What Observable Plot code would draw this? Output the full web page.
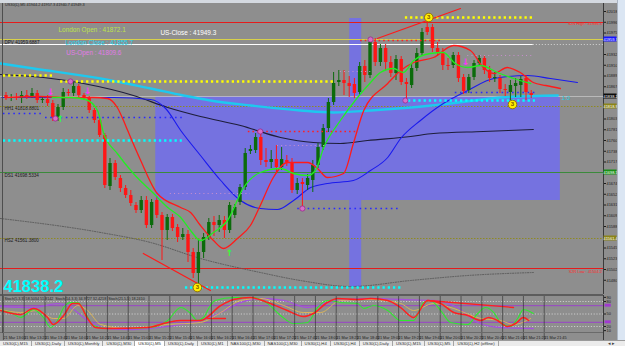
<!DOCTYPE html>
<html><head><meta charset="utf-8">
<script src="https://cdn.jsdelivr.net/npm/d3@7"></script>
<script src="https://cdn.jsdelivr.net/npm/@observablehq/plot@0.6"></script>
<style>
html,body{margin:0;padding:0;}
body{width:625px;height:346px;overflow:hidden;position:relative;background:#8e8e8e;font-family:"Liberation Sans",Arial,sans-serif;}
#top{position:absolute;left:0;top:0;width:625px;height:3px;background:#d4d9e0;}
#title{position:absolute;left:5px;top:3px;font-size:3.8px;line-height:5px;color:#1e1e1e;white-space:nowrap;z-index:3;}
#main{position:absolute;left:0;top:3px;}
#osc{position:absolute;left:0;top:295px;}
#sep{position:absolute;left:0;top:293.5px;width:603px;height:2px;background:#5c5c5c;z-index:2;}
#oscbottom{position:absolute;left:0;top:332px;width:603px;height:1px;background:#6a6a6a;z-index:2;}
#leftedge{position:absolute;left:2px;top:3px;width:1px;height:330px;background:#4e4e4e;z-index:2;}
#scroll{position:absolute;left:617px;top:0;width:8px;height:340px;background:#dbe6f3;border-left:1px solid #aab4c2;box-sizing:border-box;z-index:4;}
#tabs{position:absolute;left:0;top:340px;width:625px;height:6px;background:#ececec;display:flex;font-size:4.2px;color:#303030;line-height:6px;border-top:1px solid #9a9a9a;box-sizing:border-box;z-index:5;}
#tabs div{padding:0 3px;border-right:1px solid #a4a4a4;white-space:nowrap;}
#tabs div.active{background:#ffffff;}
#arrows{position:absolute;left:608px;top:340px;font-size:5px;line-height:6px;color:#404040;z-index:6;}
</style></head>
<body>
<div id="top"></div>
<div id="title"></div>
<div id="main"></div>
<div id="sep"></div>
<div id="osc"></div>
<div id="oscbottom"></div>
<div id="leftedge"></div>
<div id="scroll"></div>
<div id="tabs"></div>
<div id="arrows">◂ ▸</div>
<script>
// ---------------- DATA ----------------
const chartTitle = "US30(£),M5  41944.2 41957.3 41940.7 41949.3";
// candles (index 0..101, M5 bars)
const opens = [41850,41844,41846,41845,41850,41848,41854,41840,41842,41834,
 41806,41826,41856,41854,41868,41850,41844,41820,41800,41770,
 41668,41714,41684,41664,41650,41630,41620,41640,41590,41640,
 41610,41580,41606,41586,41566,41572,41536,41494,41536,41566,
 41596,41590,41600,41580,41610,41636,41666,41738,41740,41766,
 41720,41716,41722,41706,41720,41716,41660,41676,41670,41680,
 41710,41746,41784,41836,41876,41880,41874,41872,41856,41908,
 41890,41956,41916,41944,41916,41894,41922,41876,41870,41904,
 41934,41986,41986,41944,41936,41910,41910,41930,41886,41860,
 41886,41914,41924,41900,41884,41884,41862,41856,41868,41870,
 41884,41854];
const closes = [41844,41846,41845,41850,41848,41854,41840,41842,41834,41806,
 41826,41856,41854,41868,41850,41846,41820,41800,41770,41670,
 41714,41686,41664,41650,41634,41620,41640,41590,41636,41610,
 41580,41606,41584,41566,41572,41536,41494,41536,41566,41596,
 41590,41600,41580,41630,41626,41666,41734,41742,41766,41720,
 41716,41722,41706,41722,41716,41660,41674,41672,41684,41710,
 41746,41784,41836,41874,41880,41874,41868,41854,41908,41890,
 41956,41916,41944,41916,41894,41922,41876,41872,41904,41934,
 41976,41976,41944,41936,41910,41908,41930,41884,41858,41886,
 41914,41924,41900,41884,41886,41862,41860,41870,41874,41882,
 41856,41850];
const highs = [41856,41852,41854,41858,41860,41864,41860,41848,41850,41840,
 41832,41864,41862,41876,41872,41854,41848,41824,41804,41774,
 41724,41720,41690,41670,41660,41636,41648,41648,41642,41648,
 41616,41612,41612,41592,41584,41580,41544,41560,41574,41604,
 41608,41610,41608,41636,41632,41672,41744,41750,41774,41772,
 41744,41740,41750,41746,41730,41724,41684,41684,41692,41720,
 41754,41792,41844,41896,41900,41900,41888,41884,41916,41920,
 41960,41964,41952,41952,41928,41930,41928,41884,41912,41944,
 41984,42004,41992,41956,41944,41924,41936,41936,41892,41892,
 41920,41930,41930,41908,41896,41890,41872,41880,41884,41888,
 41890,41860];
const lows = [41840,41838,41840,41834,41842,41844,41834,41834,41828,41798,
 41798,41820,41848,41848,41844,41840,41814,41794,41766,41664,
 41660,41680,41656,41644,41628,41614,41614,41584,41584,41604,
 41520,41560,41578,41556,41560,41516,41484,41474,41524,41560,
 41568,41576,41564,41574,41604,41630,41660,41732,41734,41710,
 41706,41704,41696,41700,41708,41654,41652,41624,41660,41656,
 41704,41740,41776,41830,41868,41850,41846,41844,41850,41876,
 41884,41908,41908,41900,41886,41880,41870,41840,41864,41898,
 41928,41970,41936,41928,41900,41900,41904,41876,41852,41854,
 41880,41908,41892,41876,41876,41854,41848,41840,41846,41846,
 41840,41844];

// moving averages: [bar index, price]
const maGreen = [[8.9,41846],[12.4,41846],[15.3,41842],[17.6,41820],[18.8,41774],[21.4,41734],[24.5,41694],[28.4,41654],[31.1,41626],[33.6,41606],[35.5,41580],[37.4,41560],[39.9,41576],[42.6,41600],[45.7,41666],[48.9,41696],[52.8,41704],[55.3,41694],[58.0,41690],[59.5,41700],[61.1,41746],[64.3,41800],[67.6,41846],[70.1,41876],[72.0,41896],[74.5,41904],[76.4,41896],[78.4,41920],[81.6,41934],[84.1,41936],[86.4,41914],[88.8,41906],[91.3,41910],[94.5,41896],[97.6,41884],[100.9,41874]];
const maRed = [[-0.1,41846],[6.6,41848],[12.4,41846],[16.8,41846],[19.5,41844],[21.4,41826],[22.6,41800],[23.4,41780],[25.9,41720],[29.1,41654],[33.6,41626],[35.5,41616],[37.4,41590],[39.9,41560],[41.8,41544],[44.5,41564],[47.0,41590],[48.9,41630],[51.4,41686],[54.1,41716],[58.0,41716],[59.9,41704],[61.8,41686],[64.9,41694],[66.8,41754],[68.8,41820],[73.4,41874],[75.9,41900],[78.4,41916],[82.2,41926],[86.1,41950],[89.3,41940],[91.8,41906],[93.8,41894],[96.4,41906],[98.9,41896],[101.4,41876],[103.8,41870],[106.6,41864]];
const maBlue = [[-0.8,41846],[13.4,41846],[20.7,41846],[27.8,41842],[30.7,41824],[33.6,41780],[37.4,41730],[41.3,41680],[45.1,41640],[48.9,41624],[52.2,41622],[55.3,41640],[58.6,41666],[61.8,41674],[66.8,41680],[70.1,41700],[73.4,41726],[75.9,41764],[79.7,41800],[84.1,41834],[88.8,41860],[93.8,41884],[100.3,41890],[104.7,41884],[109.9,41876]];
const maBlack = [[-1.06,41892],[7.2,41886],[14.9,41874],[24.5,41850],[31.1,41826],[37.4,41808],[45.1,41790],[52.8,41766],[59.1,41756],[64.3,41754],[69.5,41760],[77.8,41768],[82.2,41774],[91.8,41778],[101.4,41782]];
const maCyan = [[-1.06,41914],[5.3,41904],[18.2,41884],[27.8,41864],[34.1,41850],[39.3,41840],[47.0,41830],[56.6,41820],[63.0,41816],[70.1,41820],[77.8,41826],[85.5,41834],[95.1,41846],[106.1,41850]];
const maGray = [[-1.06,41604],[18.2,41576],[27.8,41556],[37.4,41524],[48.9,41496],[56.6,41480],[66.3,41468],[77.8,41480],[88.8,41490],[101.4,41496]];

// levels (prices)
const s2rHigh = 41996, s2rLow = 41504;
const dpvLevel = 41962, whiteLevel = 41952, bidLevel = 41848;
const hh1Level = 41828, ds1Level = 41696, hs2Level = 41564;
const levelNames = ["DPV 41959.6887","HH1 41818.8801","DS1 41698.5334","HS2 41561.3800"];
const levelNamePrices = [41956, 41823, 41690, 41560];
const sideLabels = ["S2R High : 41996.3","S2R Low : 41504.2"];
const sideLabelPrices = [41994, 41497];

// session box & bar [index range], [price range]
const boxIdx = [28.8, 106.6], boxPrice = [41848, 41640];
const barIdx = [66.1, 68.4], barPrice = [42004, 41466];

// dotted level segments: price p from bar a to bar b
const yellowDots = [{p:41890,a:-0.5,b:9.5},{p:41878,a:10.5,b:63},{p:42006,a:76.8,b:101.8}];
const cyanDots = [{p:41760,a:-0.5,b:33.9},{p:41840,a:76.4,b:101.8},{p:41466,a:34.5,b:76.4}];
const blueDots = [{p:41814,a:-0.5,b:7},{p:41806,a:7.6,b:33.9},{p:41856,a:86.4,b:101.8},{p:41624,a:56.1,b:75.9}];
const redDots = [{p:41960,a:68.2,b:84.1},{p:41778,a:46.6,b:67.6}];
const pinkDots = [{p:41750,a:52.2,b:61.8},{p:41654,a:31.6,b:47},{p:41930,a:88.8,b:101.4},{p:41898,a:64.3,b:70.7}];

// markers
const pinkCircles = [[9.5,41804],[48.9,41778],[57.0,41624],[76.8,41840],[12.4,41878],[70.1,41962]];
const yellowMarks = [[81.3,42006],[36.8,41466],[97.4,41832]];
const downArrows = [[8.6,41856],[15.7,41858],[88.4,41916]];
const upArrows = [[10.5,41802],[43.0,41534]];
const trendTop = [[71.4,41964],[87.4,42024]];
const trendBottom = [[26.4,41534],[39.3,41460]];

// session texts
const sessionTexts = ["London Open : 41872.1","London Close : 41855.7","US-Open : 41809.6","US-Close : 41949.3"];
const sessionIdx = [10.1, 11.4, 11.6, 29.7];
const sessionPrice = [41982, 41956, 41936, 41976];
const ratioText = "1:0", ratioIdx = 106.8, ratioPrice = 41844;
const bigPrice = "41838.2";

// price axis
const priceTicks = [42018.0,41996.5,41975.0,41953.5,41932.0,41910.5,41889.0,41867.5,41846.0,41824.5,41803.0,41781.5,41760.0,41738.5,41717.0,41695.5,41674.0,41652.5,41631.0,41609.5,41588.0,41566.5,41545.0,41523.5,41502.0,41480.5];
const axisBoxPrices = [41962, 41848, 41828, 41696, 41564];
const axisBoxLabels = ["41959.7","41838.2","41818.9","41698.5","41561.4"];

// oscillator: [bar index, value 0..100]
const oscHeader = "Stoch(5,3,3) 58.5034 51.8142  Stoch(14,3,3) 34.9727 32.4218  Stoch(21,5,5) 18.2410";
const stochGreen = [[-1.06,58.4],[0.9,53.6],[2.8,41.6],[5.3,60.8],[7.2,41.6],[8.6,17.5],[9.9,34.4],[11.1,65.6],[12.4,77.6],[13.8,77.6],[15.3,51.2],[16.8,22.4],[19.5,15.1],[23.4,15.1],[27.8,17.5],[31.1,34.4],[33.6,65.6],[35.5,51.2],[36.8,34.4],[38.0,41.6],[39.3,70.4],[40.2,82.5],[43.8,89.7],[47.6,89.7],[50.3,75.2],[52.8,46.4],[55.3,27.2],[58.0,29.6],[59.9,65.6],[61.8,82.5],[64.3,77.6],[67.6,75.2],[68.8,63.2],[70.7,70.4],[73.4,58.4],[75.9,34.4],[78.4,34.4],[80.3,77.6],[81.6,82.5],[83.6,58.4],[85.5,29.6],[88.8,24.8],[90.7,51.2],[92.2,65.6],[93.8,53.6],[95.1,29.6],[97.0,20.0],[98.4,39.2],[99.5,60.8],[101.4,51.2]];
const stochRed = [[-1.06,58.4],[2.8,48.8],[5.3,63.2],[8.0,41.6],[9.1,24.8],[11.1,46.4],[12.8,75.2],[13.9,75.2],[15.7,39.2],[17.2,17.5],[19.5,15.1],[27.2,17.5],[31.1,29.6],[33.6,34.4],[37.4,34.4],[41.3,70.4],[43.8,84.9],[47.0,89.7],[50.3,77.6],[54.1,58.4],[57.2,44.0],[59.1,51.2],[61.8,77.6],[63.8,87.3],[67.6,84.9],[70.1,87.3],[73.4,82.5],[75.9,65.6],[78.4,41.6],[81.1,82.5],[83.6,75.2],[86.1,53.6],[88.8,46.4],[91.3,34.4],[92.8,41.6],[94.5,34.4],[96.4,20.0],[98.0,27.2],[99.5,41.6],[100.5,34.4]];
const stochOrange = [[-1.06,60.8],[2.8,53.6],[6.1,58.4],[9.1,39.2],[11.1,39.2],[13.8,70.4],[15.7,58.4],[18.2,24.8],[23.4,15.1],[31.1,24.8],[37.4,29.6],[41.3,53.6],[45.1,82.5],[48.9,87.3],[53.4,70.4],[57.2,53.6],[60.5,53.6],[64.3,82.5],[70.1,84.9],[75.9,75.2],[78.4,58.4],[82.2,75.2],[86.1,63.2],[91.3,39.2],[95.1,34.4],[97.6,24.8],[100.9,39.2]];
const stochPurple = [[-1.06,68.0],[5.3,65.6],[9.9,75.0],[11.8,70.4],[15.7,34.4],[19.5,15.1],[24.5,12.7],[31.1,20.0],[37.4,34.4],[41.3,53.6],[45.1,77.6],[48.9,87.3],[53.4,82.5],[58.0,65.6],[61.8,77.6],[66.3,84.9],[70.7,87.3],[75.9,84.9],[82.2,82.5],[86.8,65.6],[90.7,29.6],[95.1,17.5],[101.4,15.1]];
const oscTrend1 = [[81.1,82.5],[97.6,65.6]];
const oscTrend2 = [[38.8,39.2],[42.2,39.2]];
const oscDotted = [80, 50, 20];
const oscPurpleLv = [70, 30];
const oscTicks = [90, 80, 50, 20, 10];

// time axis
const timeTicks = [-0.5,3.5,7.5,11.5,15.5,19.5,23.5,27.5,31.5,35.5,39.5,43.5,47.5,51.5,55.5,59.5,63.5,67.5,71.5,75.5,79.5,83.5,87.5,91.5,95.5,99.5,103.5];
const timeLabels = ["21 Mar 13:05","21 Mar 13:25","21 Mar 13:45","21 Mar 14:05","21 Mar 14:25","21 Mar 14:45","21 Mar 15:05","21 Mar 15:25","21 Mar 15:45","21 Mar 16:05","21 Mar 16:25","21 Mar 16:45","21 Mar 17:05","21 Mar 17:25","21 Mar 17:45","21 Mar 18:05","21 Mar 18:25","21 Mar 18:45","21 Mar 19:05","21 Mar 19:25","21 Mar 19:45","21 Mar 20:05","21 Mar 20:25","21 Mar 20:45","21 Mar 21:05","21 Mar 21:25","21 Mar 21:45"];

const tabs = ["US30(£),M15","US30(£),Daily","US30(£),Monthly","US30(£),M30","US30(£),M5","US30(£),Daily","US30(£),M1","NAS100(£),M30","NAS100(£),M30","US30(£),H4","US30(£),H4","US30(£),Daily","US30(£),M15","US30(£),M5","US30(£),H2 (offline)"];
const activeTab = 4;

// ---------------- RENDER ----------------
const FONT = "Liberation Sans";
const xDom = [-1.058, 114.9];
const candles = opens.map((o, i) => ({i, o, c: closes[i], h: highs[i], l: lows[i]}));
const isUp = d => d.c >= d.o;
const candleColor = d => isUp(d) ? "#0b6b0b" : "#ff1616";
const pairX = d => d[0], pairY = d => d[1];
const lineOpts = (stroke, w, extra={}) => ({x: pairX, y: pairY, stroke, strokeWidth: w, curve: "monotone-x", ...extra});
const boxColors = ["#1515ff","#0c0c0c","#8a8418","#189018","#8a8418"];
const axisBoxes = axisBoxPrices.map((p, k) => ({p, t: axisBoxLabels[k], c: boxColors[k]}));
// hide tick labels that would sit under a value box
const visibleTicks = priceTicks.filter(t => axisBoxPrices.every(p => Math.abs(p - t) > 10));
const sessionColors = ["#bde24a","#22d8f2","#e27ae8","#ffffff"];
const sessions = sessionTexts.map((t, k) => ({t, i: sessionIdx[k], p: sessionPrice[k], c: sessionColors[k]}));
const levelTexts = levelNames.map((t, k) => ({t, p: levelNamePrices[k]}));
const sides = sideLabels.map((t, k) => ({t, p: sideLabelPrices[k]}));
const xEnd = xDom[1];
const axBoxX1 = xEnd + 0.1, axBoxX2 = xEnd + 2.6;
const visibleOscTicks = oscTicks.filter(t => oscPurpleLv.every(p => Math.abs(p - t) > 8));

document.getElementById("title").textContent = chartTitle;

const main = Plot.plot({
  width: 625, height: 291,
  marginLeft: 0, marginRight: 22, marginTop: 0, marginBottom: 0,
  x: {domain: xDom, axis: null},
  y: {domain: [41452, 42034], axis: null},
  style: {background: "transparent", color: "#1c1c1c", fontFamily: FONT, overflow: "visible"},
  marks: [
    Plot.rect([{a: boxIdx[0], b: boxIdx[1], t: boxPrice[0], u: boxPrice[1]}], {x1: "a", x2: "b", y1: "t", y2: "u", fill: "#7572e0"}),
    Plot.rect([{a: barIdx[0], b: barIdx[1], t: barPrice[0], u: barPrice[1]}], {x1: "a", x2: "b", y1: "t", y2: "u", fill: "#7572e0"}),
    Plot.ruleY([s2rHigh, s2rLow], {stroke: "#e41c1c", strokeWidth: 1}),
    Plot.ruleY([dpvLevel], {stroke: "#d8d04a", strokeWidth: 1}),
    Plot.ruleY([whiteLevel], {x1: () => xDom[0], x2: () => 101.4, stroke: "#ffffff", strokeWidth: 1.2}),
    Plot.ruleY([whiteLevel], {x1: () => 101.4, x2: () => xEnd, stroke: "#d6d6d6", strokeWidth: 1, strokeDasharray: "1,2"}),
    Plot.ruleY([bidLevel], {stroke: "#c4c4c4", strokeWidth: 0.8}),
    Plot.ruleY([hh1Level, hs2Level], {stroke: "#8f8a22", strokeWidth: 1, strokeDasharray: "1.5,1.5"}),
    Plot.ruleY([ds1Level], {stroke: "#3b8a3b", strokeWidth: 1}),
    Plot.line(maGray, lineOpts("#5a5a5a", 1, {strokeDasharray: "1,1.5"})),
    Plot.line(maCyan, lineOpts("#1ec8ef", 2.4)),
    Plot.line(maBlack, lineOpts("#1e1e3a", 1.2)),
    Plot.line(maBlue, lineOpts("#1a1aee", 1.1)),
    Plot.ruleX(candles, {x: "i", y1: "l", y2: "h", stroke: candleColor, strokeWidth: 1}),
    Plot.ruleX(candles, {x: "i", y1: "o", y2: d => Math.abs(d.c - d.o) < 2 ? d.o + (isUp(d) ? 2 : -2) : d.c, stroke: candleColor, strokeWidth: 3.4}),
    Plot.line(maRed, lineOpts("#ff1a1a", 1.3)),
    Plot.line(maGreen, lineOpts("#22ee22", 1.3)),
    Plot.ruleY(pinkDots, {y: "p", x1: "a", x2: "b", stroke: "#c98fcf", strokeWidth: 1, strokeDasharray: "1,3.2"}),
    Plot.ruleY(yellowDots, {y: "p", x1: "a", x2: "b", stroke: "#ffff00", strokeWidth: 2.3, strokeDasharray: "2.3,2.9"}),
    Plot.ruleY(cyanDots, {y: "p", x1: "a", x2: "b", stroke: "#00ffff", strokeWidth: 2.3, strokeDasharray: "2.3,2.9"}),
    Plot.ruleY(blueDots, {y: "p", x1: "a", x2: "b", stroke: "#2a2aff", strokeWidth: 1.6, strokeDasharray: "1.6,3.6"}),
    Plot.ruleY(redDots, {y: "p", x1: "a", x2: "b", stroke: "#ff2020", strokeWidth: 1.6, strokeDasharray: "1.6,3"}),
    Plot.line(trendTop, {x: pairX, y: pairY, stroke: "#ff1a1a", strokeWidth: 1.2}),
    Plot.line(trendBottom, {x: pairX, y: pairY, stroke: "#ff1a1a", strokeWidth: 1.2}),
    Plot.dot(pinkCircles, {x: pairX, y: pairY, r: 2.6, fill: "#d46fc8", stroke: "#9a2a8e", strokeWidth: 0.8}),
    Plot.dot(yellowMarks, {x: pairX, y: pairY, r: 4.3, fill: "#ffee00", stroke: "#8a6c00", strokeWidth: 0.9}),
    Plot.text(yellowMarks, {x: pairX, y: pairY, text: () => "3", fontSize: 6, fontWeight: "bold", fill: "#7a5600", fontFamily: FONT}),
    Plot.text(downArrows, {x: pairX, y: pairY, text: () => "↓", fontSize: 9, fontWeight: "bold", fill: "#ff33ff", fontFamily: "DejaVu Sans"}),
    Plot.text(upArrows, {x: pairX, y: pairY, text: () => "↑", fontSize: 9, fontWeight: "bold", fill: "#33ff33", fontFamily: "DejaVu Sans"}),
    Plot.text(sessions, {x: "i", y: "p", text: "t", fill: "c", fontSize: 6.4, textAnchor: "start", fontFamily: FONT}),
    Plot.text(levelTexts, {x: () => -0.3, y: "p", text: "t", fill: "#1c1c1c", fontSize: 4.6, textAnchor: "start", fontFamily: FONT}),
    Plot.text(sides, {x: () => xEnd - 0.3, y: "p", text: "t", fill: "#ff2a2a", fontSize: 3.9, textAnchor: "end", fontFamily: FONT}),
    Plot.text([ratioText], {x: () => ratioIdx, y: () => ratioPrice, text: d => d, fill: "#22d0e8", fontSize: 6, textAnchor: "start", fontFamily: FONT}),
    Plot.text([bigPrice], {frameAnchor: "bottom-left", text: d => d, dx: 3, dy: -3, lineAnchor: "bottom", textAnchor: "start", fill: "#00ffff", fontSize: 16.5, fontWeight: "bold", fontFamily: FONT}),
    Plot.ruleX([xEnd], {stroke: "#3a3a3a", strokeWidth: 1}),
    Plot.axisY(visibleTicks, {anchor: "right", tickSize: 2, tickPadding: 1, fontSize: 3.9, tickFormat: d => d.toFixed(1), fontFamily: FONT}),
    Plot.rect(axisBoxes, {x1: () => axBoxX1, x2: () => axBoxX2, y1: d => d.p + 5, y2: d => d.p - 5, fill: "c"}),
    Plot.text(axisBoxes, {x: () => (axBoxX1 + axBoxX2) / 2, y: "p", text: "t", fill: "#ffffff", fontSize: 3.9, fontFamily: FONT})
  ]
});
document.getElementById("main").appendChild(main);

const osc = Plot.plot({
  width: 625, height: 46,
  marginLeft: 0, marginRight: 22, marginTop: 0, marginBottom: 0,
  x: {domain: xDom, axis: null},
  y: {domain: [0, 100], range: [39.3, -2.3], axis: null},
  style: {background: "transparent", color: "#1c1c1c", fontFamily: FONT, overflow: "visible"},
  marks: [
    Plot.ruleY(oscDotted, {stroke: "#dcdcdc", strokeWidth: 0.8, strokeDasharray: "1.2,1.6"}),
    Plot.ruleY(oscPurpleLv, {stroke: "#9a44c8", strokeWidth: 1}),
    Plot.line(stochPurple, lineOpts("#a452dc", 1.3)),
    Plot.line(stochOrange, lineOpts("#d9b45a", 1)),
    Plot.line(stochGreen, lineOpts("#2eea2e", 1.1)),
    Plot.line(stochRed, lineOpts("#ff2020", 1.5)),
    Plot.line(oscTrend1, {x: pairX, y: pairY, stroke: "#ff2020", strokeWidth: 1.3}),
    Plot.line(oscTrend2, {x: pairX, y: pairY, stroke: "#ff2020", strokeWidth: 1.3}),
    Plot.text([oscHeader], {frameAnchor: "top-left", text: d => d, dx: 4, dy: 2, lineAnchor: "top", textAnchor: "start", fontSize: 3.7, fill: "#202020", fontFamily: FONT}),
    Plot.ruleX([xEnd], {stroke: "#3a3a3a", strokeWidth: 1}),
    Plot.axisY(visibleOscTicks, {anchor: "right", tickSize: 2, tickPadding: 1, fontSize: 3.9, fontFamily: FONT}),
    Plot.rect(oscPurpleLv, {x1: () => xEnd + 0.3, x2: () => xEnd + 1.5, y1: d => d + 3.5, y2: d => d - 3.5, fill: "#a03ad0"}),
    Plot.text(timeTicks, {x: d => d, text: (d, k) => timeLabels[k], frameAnchor: "bottom", lineAnchor: "bottom", textAnchor: "start", dy: -2.5, fontSize: 3.8, fill: "#1c1c1c", fontFamily: FONT}),
    Plot.tickX(timeTicks, {x: d => d, frameAnchor: "bottom", stroke: "#2a2a2a", strokeWidth: 0.6})
  ]
});
document.getElementById("osc").appendChild(osc);

const tabBar = document.getElementById("tabs");
tabs.forEach((t, k) => {
  const el = document.createElement("div");
  el.textContent = t;
  if (k === activeTab) el.className = "active";
  tabBar.appendChild(el);
});
</script>
</body></html>
